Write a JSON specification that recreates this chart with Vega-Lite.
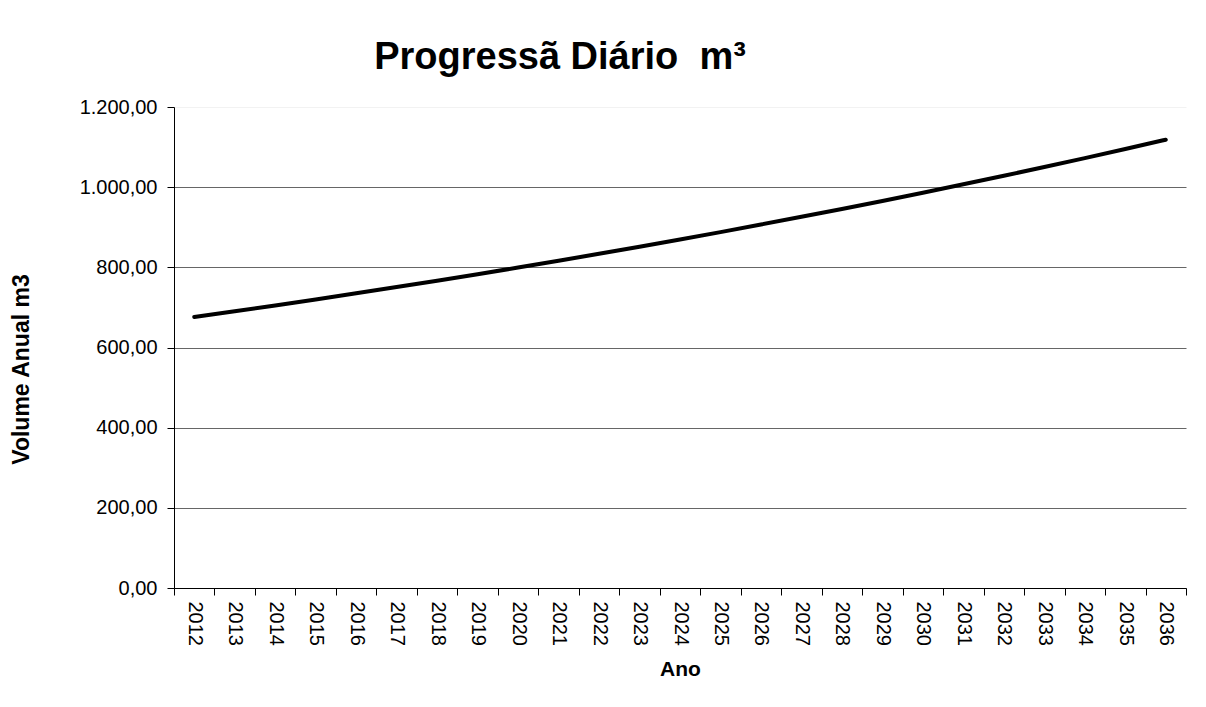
{
  "$schema": "https://vega.github.io/schema/vega-lite/v6.json",
  "autosize": "none",
  "width": 1012,
  "height": 481,
  "padding": {"left": 174, "top": 107, "right": 20, "bottom": 119},
  "background": "white",
  "title": {
    "text": "Progressã Diário\u00a0 m³",
    "font": "Liberation Sans",
    "fontSize": 38,
    "fontWeight": "bold",
    "color": "black",
    "anchor": "start",
    "dx": 364,
    "offset": 20
  },
  "data": {
    "values": [
      {"Ano": "2012", "Volume": 676.0},
      {"Ano": "2013", "Volume": 690.3},
      {"Ano": "2014", "Volume": 705.0},
      {"Ano": "2015", "Volume": 719.9},
      {"Ano": "2016", "Volume": 735.2},
      {"Ano": "2017", "Volume": 750.8},
      {"Ano": "2018", "Volume": 766.7},
      {"Ano": "2019", "Volume": 782.9},
      {"Ano": "2020", "Volume": 799.5},
      {"Ano": "2021", "Volume": 816.5},
      {"Ano": "2022", "Volume": 833.8},
      {"Ano": "2023", "Volume": 851.5},
      {"Ano": "2024", "Volume": 869.5},
      {"Ano": "2025", "Volume": 887.9},
      {"Ano": "2026", "Volume": 906.8},
      {"Ano": "2027", "Volume": 926.0},
      {"Ano": "2028", "Volume": 945.6},
      {"Ano": "2029", "Volume": 965.7},
      {"Ano": "2030", "Volume": 986.2},
      {"Ano": "2031", "Volume": 1007.1},
      {"Ano": "2032", "Volume": 1028.4},
      {"Ano": "2033", "Volume": 1050.2},
      {"Ano": "2034", "Volume": 1072.5},
      {"Ano": "2035", "Volume": 1095.2},
      {"Ano": "2036", "Volume": 1118.4}
    ]
  },
  "mark": {"type": "line", "color": "black", "strokeWidth": 4, "strokeCap": "round", "interpolate": "monotone"},
  "encoding": {
    "x": {
      "field": "Ano",
      "type": "ordinal",
      "scale": {"type": "band", "paddingInner": 0, "paddingOuter": 0},
      "axis": {
        "title": "Ano",
        "titleFont": "Liberation Sans",
        "titleFontSize": 21,
        "titleFontWeight": "bold",
        "titleColor": "black",
        "titlePadding": 13,
        "labelFont": "Liberation Sans",
        "labelFontSize": 20,
        "labelColor": "black",
        "labelAngle": 90,
        "labelAlign": "left",
        "labelBaseline": "middle",
        "labelPadding": 6,
        "tickBand": "extent",
        "tickSize": 7,
        "tickColor": "black",
        "domainColor": "black",
        "domainWidth": 1,
        "grid": false
      }
    },
    "y": {
      "field": "Volume",
      "type": "quantitative",
      "scale": {"domain": [0, 1200], "nice": false},
      "axis": {
        "title": "Volume Anual m3",
        "titleFont": "Liberation Sans",
        "titleFontSize": 23,
        "titleFontWeight": "bold",
        "titleColor": "black",
        "titlePadding": 46,
        "titleY": 262,
        "values": [0, 200, 400, 600, 800, 1000, 1200],
        "format": ",.2f",
        "labelFont": "Liberation Sans",
        "labelFontSize": 20,
        "labelColor": "black",
        "labelPadding": 10,
        "tickSize": 7,
        "tickColor": "black",
        "domainColor": "black",
        "grid": true,
        "gridColor": {"condition": {"test": "datum.value == 1200", "value": "#f2f2f2"}, "value": "#666666"},
        "gridWidth": 1
      }
    }
  },
  "config": {
    "locale": {"number": {"decimal": ",", "thousands": ".", "grouping": [3], "currency": ["R$", ""]}},
    "view": {"stroke": null}
  }
}
